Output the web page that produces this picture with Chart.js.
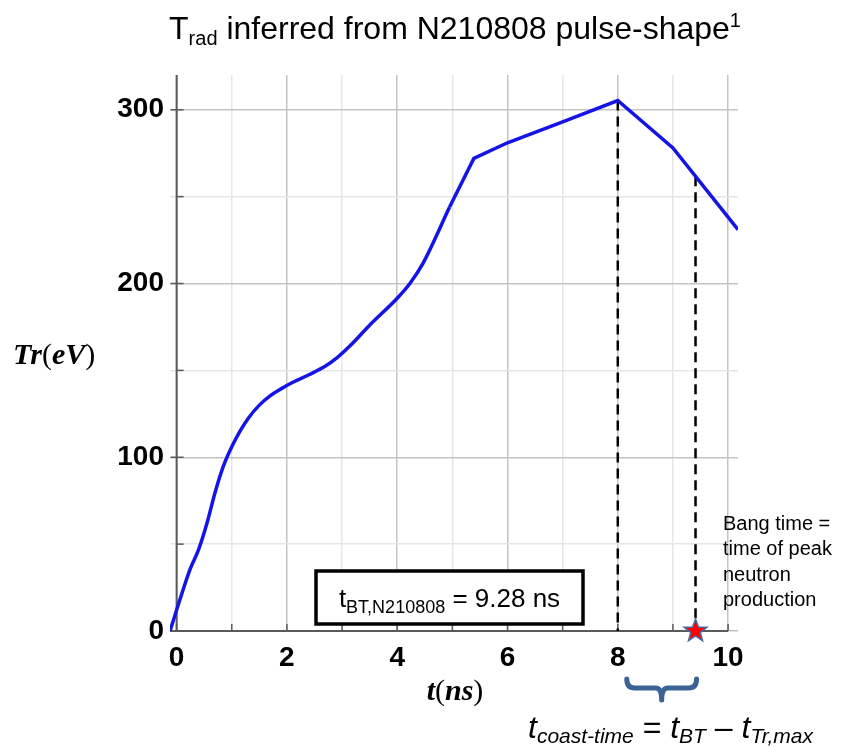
<!DOCTYPE html>
<html><head><meta charset="utf-8">
<script src="https://cdn.jsdelivr.net/npm/chart.js@4.4.0/dist/chart.umd.min.js"></script>
<style>html,body{margin:0;padding:0;background:#fff;}#wrap{width:842px;height:747px;}</style>
</head><body><div id="wrap"><canvas id="c" width="842" height="747"></canvas></div>
<script>
// ---- data ----
const times = [-0.12, 0.1, 0.25, 0.4, 0.55, 0.7, 0.85, 1.0, 1.15, 1.3, 1.5, 1.7, 1.9, 2.1, 2.4, 2.7, 2.9, 3.14, 3.5, 4.0, 4.23, 4.47, 4.95, 5.39, 6.0, 7.0, 8.0, 9.0, 10.18];
const trad  = [0, 22, 36, 47, 62, 80, 95, 106, 115, 122.5, 130, 135.5, 139.5, 143, 147.5, 152.5, 157, 164, 176, 191.5, 200, 211.7, 244, 272, 281, 293, 305.3, 278, 231];
const smoothUntil = 4.95;
const xTicks = [0,1,2,3,4,5,6,7,8,9,10];
const xLabels = ['0','','2','','4','','6','','8','','10'];
const yTicks = [0,50,100,150,200,250,300];
const yLabels = ['0','','100','','200','','300'];
const peakTime = 8.0;
const bangTime = 9.41;
const boxMain = 't', boxSub = 'BT,N210808', boxRest = ' = 9.28 ns';
const bangText = ['Bang time =', 'time of peak', 'neutron', 'production'];

const pts = times.map((t,i)=>({x:t,y:trad[i]}));
const smoothPts = pts.filter(p=>p.x<=smoothUntil);
const linPts = pts.filter(p=>p.x>=smoothUntil);

function interp(t){
  for(let i=0;i<times.length-1;i++){
    if(t>=times[i]&&t<=times[i+1]){const f=(t-times[i])/(times[i+1]-times[i]);return trad[i]+f*(trad[i+1]-trad[i]);}
  }
  return trad[trad.length-1];
}
const SANS='"Liberation Sans", Arial, sans-serif';
const SERIF='"Liberation Serif", "Times New Roman", serif';

function drawRuns(ctx, runs, x, y){
  let cx=x;
  runs.forEach(r=>{ctx.font=r.font;ctx.fillText(r.text,cx,y+(r.dy||0));cx+=ctx.measureText(r.text).width;});
  return cx;
}
function runsWidth(ctx,runs){let w=0;runs.forEach(r=>{ctx.font=r.font;w+=ctx.measureText(r.text).width;});return w;}

const deco = {
  id:'deco',
  beforeDatasetsDraw(chart){
    const {ctx, scales:{x:xs,y:ys}} = chart;
    const x0=xs.getPixelForValue(0), y0=ys.getPixelForValue(0);
    ctx.save();
    ctx.strokeStyle='#5a5a5a';ctx.lineWidth=2;
    ctx.beginPath();ctx.moveTo(x0,chart.chartArea.top);ctx.lineTo(x0,y0+1);ctx.stroke();
    ctx.beginPath();ctx.moveTo(chart.chartArea.left,y0);ctx.lineTo(xs.getPixelForValue(10),y0);ctx.stroke();
    ctx.lineWidth=1.5;
    xTicks.forEach(v=>{const px=xs.getPixelForValue(v);ctx.beginPath();ctx.moveTo(px,y0);ctx.lineTo(px,y0-7);ctx.stroke();});
    yTicks.forEach(v=>{const py=ys.getPixelForValue(v);ctx.beginPath();ctx.moveTo(x0-(v%100===0?6:0),py);ctx.lineTo(x0+7,py);ctx.stroke();});
    // dashed lines
    ctx.strokeStyle='#000';ctx.lineWidth=2.5;ctx.setLineDash([10,6]);
    [peakTime,bangTime].forEach(t=>{const px=xs.getPixelForValue(t);ctx.beginPath();ctx.moveTo(px,ys.getPixelForValue(interp(t)));ctx.lineTo(px,y0);ctx.stroke();});
    ctx.restore();
  },
  afterDatasetsDraw(chart){
    const {ctx, scales:{x:xs,y:ys}} = chart;
    const y0=ys.getPixelForValue(0);
    ctx.save();
    // star
    const sx=xs.getPixelForValue(bangTime), sy=y0, R=12, r=5;
    ctx.beginPath();
    for(let i=0;i<10;i++){const a=-Math.PI/2+i*Math.PI/5;const rr=i%2?r:R;ctx.lineTo(sx+rr*Math.cos(a),sy+rr*Math.sin(a));}
    ctx.closePath();ctx.fillStyle='#ff0000';ctx.fill();ctx.strokeStyle='#4a6aa0';ctx.lineWidth=1.5;ctx.stroke();
    // box
    ctx.fillStyle='#fff';ctx.fillRect(316,571,267,53);
    ctx.strokeStyle='#000';ctx.lineWidth=3.5;ctx.strokeRect(316,571,267,53);
    ctx.fillStyle='#000';ctx.textBaseline='alphabetic';ctx.textAlign='left';
    const br=[{text:boxMain,font:'26px '+SANS},{text:boxSub,font:'18px '+SANS,dy:6},{text:boxRest,font:'26px '+SANS}];
    drawRuns(ctx,br,449.5-runsWidth(ctx,br)/2,607);
    // bang time text
    ctx.font='20px '+SANS;
    const by=[530,555,581,606];
    bangText.forEach((s,i)=>ctx.fillText(s,723,by[i]));
    // bracket
    const bl=xs.getPixelForValue(peakTime)+9, brx=xs.getPixelForValue(bangTime)+1, bm=(bl+brx)/2;
    ctx.strokeStyle='#3b6396';ctx.lineWidth=5;ctx.lineCap='round';ctx.lineJoin='round';
    ctx.beginPath();ctx.moveTo(bl,679);ctx.quadraticCurveTo(bl,688,bl+8,688);ctx.lineTo(bm-6,688);
    ctx.quadraticCurveTo(bm,688,bm,700);ctx.moveTo(bm,700);ctx.quadraticCurveTo(bm,688,bm+6,688);
    ctx.lineTo(brx-8,688);ctx.quadraticCurveTo(brx,688,brx,679);ctx.stroke();
    // formula
    ctx.fillStyle='#000';
    const fr=[{text:'t',font:'italic 32px '+SANS},{text:'coast-time',font:'italic 21px '+SANS,dy:5},{text:' = ',font:'32px '+SANS},
      {text:'t',font:'italic 32px '+SANS},{text:'BT',font:'italic 21px '+SANS,dy:5},{text:' \u2013 ',font:'32px '+SANS},
      {text:'t',font:'italic 32px '+SANS},{text:'Tr,max',font:'italic 21px '+SANS,dy:5}];
    drawRuns(ctx,fr,528,738);
    // title
    const tr=[{text:'T',font:'32px '+SANS},{text:'rad',font:'20px '+SANS,dy:6},{text:' inferred from N210808 pulse-shape',font:'32px '+SANS},{text:'1',font:'20px '+SANS,dy:-12}];
    drawRuns(ctx,tr,455-runsWidth(ctx,tr)/2,39);
    // y title
    const yr=[{text:'Tr',font:'bold italic 30px '+SERIF},{text:'(',font:'30px '+SERIF},{text:'eV',font:'bold italic 30px '+SERIF},{text:')',font:'30px '+SERIF}];
    drawRuns(ctx,yr,13,364);
    // x title
    const xr=[{text:'t',font:'bold italic 30px '+SERIF},{text:'(',font:'30px '+SERIF},{text:'ns',font:'bold italic 30px '+SERIF},{text:')',font:'30px '+SERIF}];
    drawRuns(ctx,xr,455-runsWidth(ctx,xr)/2,700);
    ctx.restore();
  }
};

const gridCol = (major)=> major ? '#c4c4c4' : '#e6e6e6';
new Chart(document.getElementById('c'),{
  type:'line',
  data:{datasets:[
    {data:smoothPts,borderColor:'#1414e6',borderWidth:3.5,pointRadius:0,cubicInterpolationMode:'monotone',fill:false},
    {data:linPts,borderColor:'#1414e6',borderWidth:3.5,pointRadius:0,tension:0,fill:false}
  ]},
  options:{
    responsive:false,animation:false,devicePixelRatio:1,
    layout:{padding:{top:75,right:104,left:0,bottom:0}},
    plugins:{legend:{display:false},tooltip:{enabled:false},title:{display:false}},
    scales:{
      x:{type:'linear',min:-0.12,max:10.18,
        afterBuildTicks:s=>{s.ticks=xTicks.map(v=>({value:v}));},
        afterFit:s=>{s.height=116;},
        grid:{drawTicks:false,lineWidth:1.5,color:c=>gridCol(c.tick&&c.tick.value%2===0)},
        border:{display:false},
        ticks:{padding:10,color:'#000',font:{family:SANS,size:28,weight:'bold'},maxRotation:0,autoSkip:false,
          callback:(v,i)=>xLabels[xTicks.indexOf(v)]||''}
      },
      y:{type:'linear',min:0,max:320,
        afterBuildTicks:s=>{s.ticks=yTicks.map(v=>({value:v}));},
        afterFit:s=>{s.width=170;},
        grid:{drawTicks:false,lineWidth:1.5,color:c=>gridCol(c.tick&&c.tick.value%100===0)},
        border:{display:false},
        ticks:{padding:6,color:'#000',font:{family:SANS,size:28,weight:'bold'},autoSkip:false,
          callback:(v)=>yLabels[yTicks.indexOf(v)]||''}
      }
    }
  },
  plugins:[deco]
});
</script></body></html>
